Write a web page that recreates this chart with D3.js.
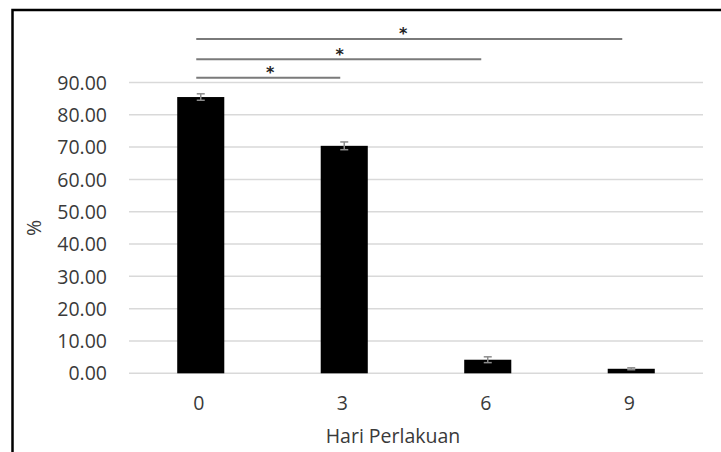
<!DOCTYPE html>
<html><head><meta charset="utf-8">
<script src="https://cdn.jsdelivr.net/npm/d3@7"></script>
<style>html,body{margin:0;padding:0;background:#fff;}svg{display:block;}</style>
</head><body>
<svg id="c" width="721" height="452"></svg>
<script>
const categories = ["0", "3", "6", "9"];
const values = [85.5, 70.4, 4.2, 1.4];
const errors = [1.0, 1.2, 0.9, 0.3];
const yTicks = [0, 10, 20, 30, 40, 50, 60, 70, 80, 90];
// significance brackets: from category, to category, level (in % units)
const sigFrom = ["0", "0", "0"];
const sigTo = ["3", "6", "9"];
const sigLevel = [91.5, 97.2, 103.5];
const sigLabel = ["*", "*", "*"];

(function () {
const svg = d3.select("#c");
const pLeft = 129, pRight = 703, pTop = 82.5, pBottom = 373.3;
const x = d3.scaleBand().domain(categories).range([pLeft, pRight]).paddingInner(0.672).paddingOuter(0.336);
const y = d3.scaleLinear().domain([0, 90]).range([pBottom, pTop]);
const font = "'Open Sans', sans-serif";
const fs = 19.5;
const txt = "#3a3a3a";

// frame
svg.append("path").attr("d", "M12.5,452 L12.5,10 L721,10").attr("fill", "none").attr("stroke", "#000").attr("stroke-width", 2.5);

// gridlines
svg.append("g").selectAll("line").data(yTicks).join("line")
  .attr("x1", pLeft).attr("x2", pRight)
  .attr("y1", d => y(d)).attr("y2", d => y(d))
  .attr("stroke", "#d9d9d9").attr("stroke-width", 1.5);

// y axis labels
const yAxis = d3.axisLeft(y).tickValues(yTicks).tickFormat(d3.format(".2f")).tickSize(0).tickPadding(0);
const ya = svg.append("g").attr("transform", "translate(107,0)").call(yAxis);
ya.select(".domain").remove();
ya.selectAll("text").attr("font-family", font).attr("font-size", fs).attr("fill", txt).attr("dy", "0.34em");

// x axis labels
const xAxis = d3.axisBottom(x).tickSize(0).tickPadding(0);
const xa = svg.append("g").attr("transform", "translate(-2,409.5)").call(xAxis);
xa.select(".domain").remove();
xa.selectAll("text").attr("font-family", font).attr("font-size", fs).attr("fill", txt).attr("dy", "0");

// bars
svg.append("g").selectAll("rect").data(categories).join("rect")
  .attr("x", d => x(d)).attr("width", x.bandwidth())
  .attr("y", (d, i) => y(values[i])).attr("height", (d, i) => y(0) - y(values[i]))
  .attr("fill", "#000");

// error bars
const eg = svg.append("g").attr("stroke", "#8c8c8c").attr("stroke-width", 1.5);
categories.forEach((c, i) => {
  const cx = x(c) + x.bandwidth() / 2;
  const y1 = y(values[i] + errors[i]), y2 = y(values[i] - errors[i]);
  eg.append("line").attr("x1", cx).attr("x2", cx).attr("y1", y1).attr("y2", y2);
  eg.append("line").attr("x1", cx - 4).attr("x2", cx + 4).attr("y1", y1).attr("y2", y1);
  eg.append("line").attr("x1", cx - 4).attr("x2", cx + 4).attr("y1", y2).attr("y2", y2);
});

// significance lines
sigFrom.forEach((f, i) => {
  const x1 = x(f) + x.bandwidth() / 2 - 4.5;
  const x2 = x(sigTo[i]) + x.bandwidth() / 2 - 4 - 2.5 * i;
  const yy = y(sigLevel[i]);
  svg.append("line").attr("x1", x1).attr("x2", x2).attr("y1", yy).attr("y2", yy)
    .attr("stroke", "#7a7a7a").attr("stroke-width", 2);
  svg.append("text").attr("x", (x1 + x2) / 2 + [2, 1, -6][i]).attr("y", yy + 0.5)
    .attr("text-anchor", "middle").attr("font-family", "'DejaVu Sans', sans-serif")
    .attr("font-size", 16).attr("font-weight", "bold").attr("fill", "#222").text(sigLabel[i]);
});

// axis titles
svg.append("text").attr("x", 393).attr("y", 443).attr("text-anchor", "middle")
  .attr("font-family", font).attr("font-size", fs).attr("fill", txt).text("Hari Perlakuan");
svg.append("text").attr("transform", "translate(41,228) rotate(-90)").attr("text-anchor", "middle")
  .attr("font-family", font).attr("font-size", fs).attr("fill", txt).text("%");
})();
</script>
</body></html>
